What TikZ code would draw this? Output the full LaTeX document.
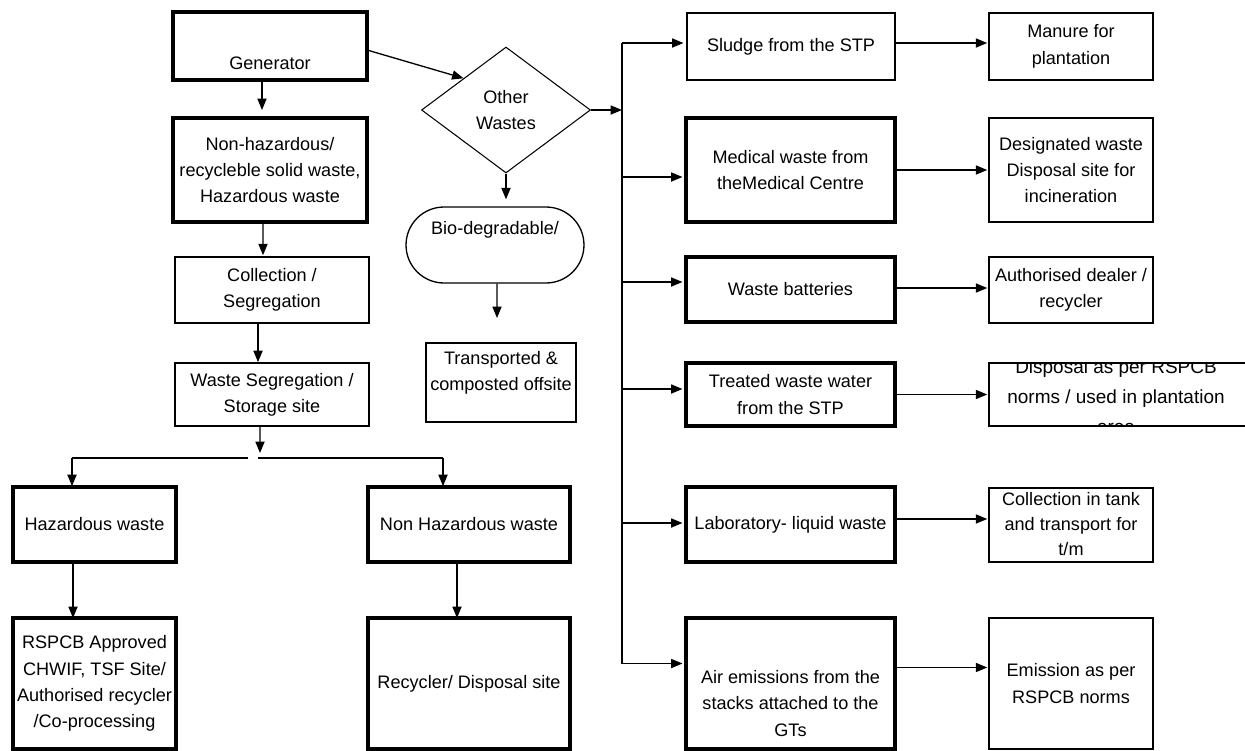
\documentclass[tikz,border=0pt]{standalone}
\usepackage{fontspec}
\setmainfont{Liberation Sans}
\usetikzlibrary{calc}
\usetikzlibrary{arrows.meta}
\usetikzlibrary{shapes.geometric}
\newcommand{\boxfont}{\fontsize{10.3}{15}\selectfont}
\newcommand{\tightfont}{\fontsize{10.3}{14.2}\selectfont}
\newcommand{\loosefont}{\fontsize{10.8}{17}\selectfont}
\tikzstyle{wbox}=[draw, rectangle, inner sep=0pt, outer sep=0pt, align=center, font=\boxfont]
\tikzstyle{thickbox}=[wbox, line width=1.9pt]
\tikzstyle{midbox}=[wbox, line width=1.2pt]
\tikzstyle{thinbox}=[wbox, line width=1.0pt]
\tikzstyle{link}=[line width=0.75pt]
\tikzstyle{flow}=[link, -{Triangle[length=6.5pt,width=5.2pt]}]
\newcommand{\wastebox}[7]{
\pgfmathsetmacro{\bw}{0.02*(#5-#3)}
\pgfmathsetmacro{\bh}{0.02*(#6-#4)}
\node[#2, minimum width=\bw cm, minimum height=\bh cm] (#1) at ({(#3+#5)/2},{(#4+#6)/2}) {#7};
}
\begin{document}
\begin{tikzpicture}[x=0.02cm, y=-0.02cm]
  \useasboundingbox (0,0) rectangle (1245,751);
  % left column
  \wastebox{gen}{thickbox, label={[font=\boxfont, yshift=-0.34cm]center:Generator}}{173}{12}{367}{80}{}
  \wastebox{nonhaz}{thickbox}{173}{118}{367}{222}{Non-hazardous/\\recycleble solid waste,\\Hazardous waste}
  \wastebox{coll}{midbox}{175}{257}{369}{323}{Collection /\\Segregation}
  \wastebox{stor}{midbox}{175}{363}{369}{426}{Waste Segregation /\\Storage site}
  \wastebox{haz}{thickbox}{13}{487}{176}{562}{Hazardous waste}
  \wastebox{nhw}{thickbox}{368}{487}{570}{562}{Non Hazardous waste}
  \wastebox{rspcb}{thickbox}{13}{618}{176}{749}{RSPCB Approved\\CHWIF, TSF Site/\\Authorised recycler\\/Co-processing}
  \wastebox{recyc}{thickbox}{368}{618}{570}{749}{Recycler/ Disposal site}
  % other wastes
  \node[draw, diamond, minimum width=3.38cm, minimum height=2.52cm, inner sep=0pt, line width=0.6pt, align=center, font=\boxfont] (ow) at (506,110) {Other\\Wastes};
  \node[draw, rounded corners=0.76cm, minimum width=3.56cm, minimum height=1.52cm, line width=0.75pt, label={[font=\boxfont, yshift=0.3cm]center:Bio-degradable/}] (bio) at (495,245) {};
  \wastebox{trans}{thinbox, label={[font=\boxfont, align=center, yshift=0.2cm]center:Transported \&\\composted offsite}}{426}{343}{576}{422}{}
  \coordinate (biodown) at (497,318);
  % right columns
  \wastebox{sludge}{thinbox}{687}{13}{895}{80}{Sludge from the STP}
  \wastebox{med}{thickbox}{686}{118}{895}{222}{Medical waste from\\theMedical Centre}
  \wastebox{bat}{thickbox}{686}{257}{895}{322}{Waste batteries}
  \wastebox{treat}{thickbox}{686}{363}{895}{426}{Treated waste water\\from the STP}
  \wastebox{lab}{thickbox}{686}{487}{895}{562}{Laboratory- liquid waste}
  \wastebox{air}{thickbox, label={[font=\boxfont, align=center, yshift=-0.4cm]center:Air emissions from the\\stacks attached to the\\GTs}}{686}{618}{895}{749}{}
  \wastebox{manure}{thinbox}{989}{13}{1153}{80}{Manure for\\plantation}
  \wastebox{desig}{thinbox}{989}{118}{1153}{222}{Designated waste\\Disposal site for\\incineration}
  \wastebox{auth}{thinbox}{989}{257}{1153}{323}{Authorised dealer /\\recycler}
  \wastebox{disp}{thinbox}{989}{363}{1262}{426}{}
  \wastebox{coltank}{thinbox}{989}{488}{1153}{562}{}
  \wastebox{emis}{thinbox}{989}{618}{1153}{749}{Emission as per\\RSPCB norms}
  \begin{scope}
    \clip (disp.south west) rectangle (disp.north east);
    \node[font=\loosefont, align=center] (disp-t) at (1116,397) {Disposal as per RSPCB\\norms / used in plantation\\area};
  \end{scope}
  \begin{scope}
    \clip (coltank.south west) rectangle (coltank.north east);
    \node[font=\tightfont, align=center] (coltank-t) at (1071,524) {Collection in tank\\and transport for\\t/m};
  \end{scope}
  % left flow
  \draw[flow, shorten >=0.16cm] ([xshift=-0.16cm]gen.south) -- ([xshift=-0.16cm]nonhaz.north);
  \draw[flow, shorten >=1pt] ([xshift=-0.14cm]nonhaz.south) -- ([xshift=-0.18cm]coll.north);
  \draw[flow, shorten >=0.5pt] ([xshift=-0.28cm]coll.south) -- ([xshift=-0.28cm]stor.north);
  \coordinate (split) at (260,458);
  \coordinate (hazturn) at (72,458);
  \coordinate (nhwturn) at (443,458);
  \draw[flow, shorten >=0.1cm] ([xshift=-0.24cm]stor.south) -- (split);
  \draw[link] (hazturn) -- ([xshift=-0.24cm]split);
  \draw[link] ([xshift=-0.04cm]split) -- (nhwturn);
  \draw[flow, shorten >=0.5pt] (hazturn) -- (hazturn |- haz.north);
  \draw[flow, shorten >=0.5pt] (nhwturn) -- (nhwturn |- nhw.north);
  \draw[flow] ([xshift=-0.43cm]haz.south) -- ([xshift=-0.43cm]rspcb.north);
  \draw[flow] ([xshift=-0.24cm]nhw.south) -- ([xshift=-0.24cm]recyc.north);
  % other wastes flow
  \coordinate (trunk) at (622,0);
  \draw[flow] ([yshift=-0.08cm]gen.east) -- (ow.north west);
  \draw[flow] (ow.east) -- (ow.east -| trunk);
  \draw[flow, shorten >=0.14cm] (ow.south) -- (ow.south |- bio.north);
  \draw[flow] ([xshift=0.04cm]bio.south) -- (biodown);
  \foreach \dst/\dy in {sludge/-3.5, med/7, bat/-7.5, treat/-5.5, lab/-1.5, air/-20} {
    \coordinate (\dst-in) at ($(\dst.west)+(0,\dy)$);
    \draw[flow, shorten >=2pt] (trunk |- \dst-in) -- (\dst-in);
  }
  \draw[link] (trunk |- sludge-in) -- (trunk |- air-in);
  \foreach \src/\dst/\dy in {sludge/manure/-3.5, med/desig/0, bat/auth/-1.5, treat/disp/0, lab/coltank/-5.5, air/emis/-16} {
    \coordinate (\src-out) at ($(\src.east)+(0,\dy)$);
    \draw[flow, shorten >=1pt] (\src-out) -- (\src-out -| \dst.west);
  }
\end{tikzpicture}
\end{document}
